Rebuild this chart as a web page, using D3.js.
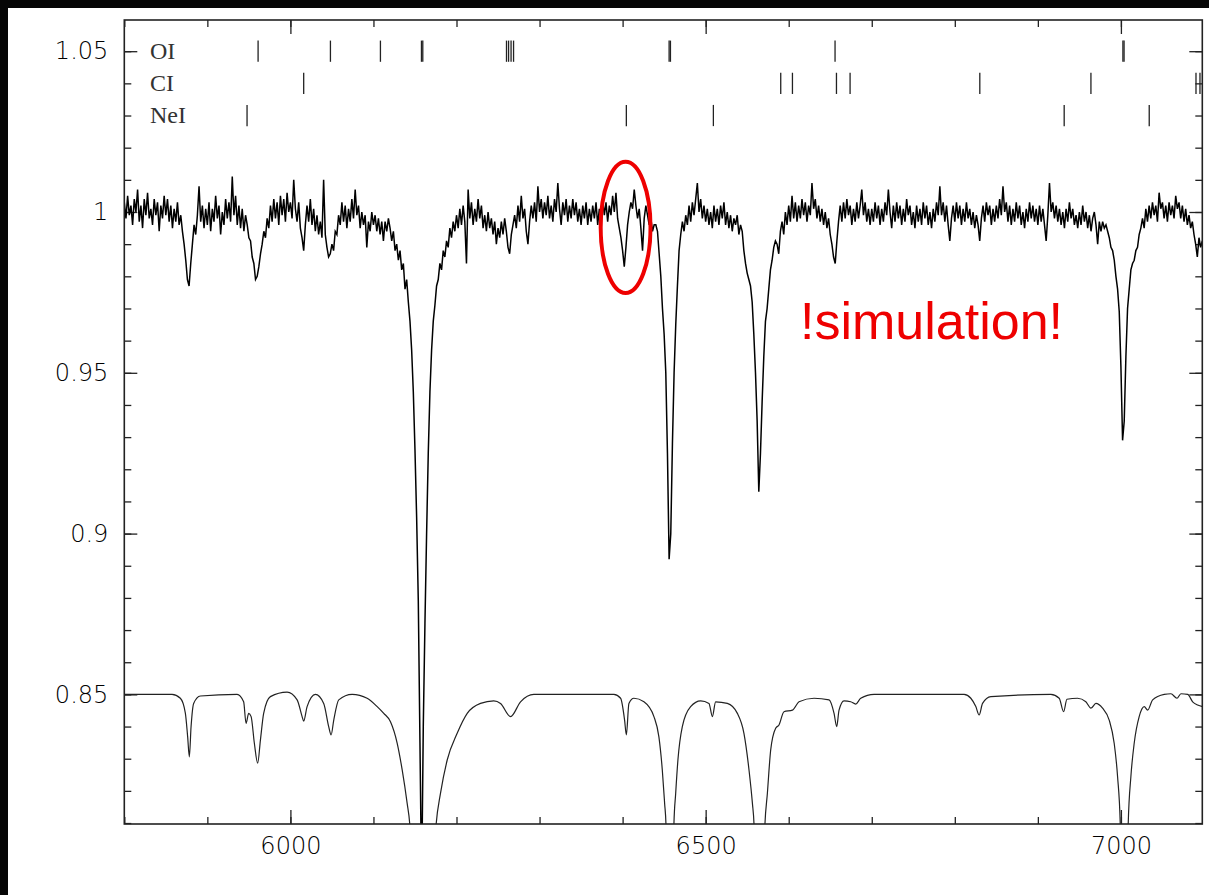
<!DOCTYPE html>
<html>
<head>
<meta charset="utf-8">
<script src="https://cdn.jsdelivr.net/npm/d3@7"></script>
<style>
  html, body { margin: 0; padding: 0; background: #060606; }
  svg { display: block; }
</style>
</head>
<body>
<div id="paper"></div>
<script>
// spectrum.js
// observed spectrum + shifted model, line identifications on top

// observed flux, sampled every 2 A from 5800 A (one row = 50 A)
const obsStart = 5800;
const obsStep = 2;
const obsFlux = [
  1.003,0.998,1.005,0.999,1.002,0.996,1.004,1.000,1.007,0.997,1.002,0.995,1.004,0.999,1.006,0.998,1.001,0.996,1.004,0.999,1.003,0.994,1.002,0.998,1.005,
  0.999,1.004,0.997,1.002,0.995,1.001,0.997,1.003,0.996,0.999,0.994,0.990,0.985,0.979,0.977,0.984,0.990,0.996,0.993,0.999,1.008,0.997,1.002,0.995,1.001,
  0.996,1.003,0.994,1.001,0.997,1.005,0.998,1.002,0.993,1.000,0.996,1.004,0.998,1.003,0.997,1.011,0.999,1.005,0.996,1.002,0.995,1.001,0.994,0.999,0.996,
  0.992,0.991,0.986,0.984,0.979,0.980,0.983,0.987,0.990,0.994,0.992,0.998,0.995,1.002,0.997,1.004,0.998,1.003,0.996,1.005,0.999,1.004,0.997,1.006,1.000,
  1.003,0.998,1.010,1.001,0.997,1.003,0.995,0.992,0.988,0.996,1.002,0.997,1.004,0.996,1.001,0.994,0.999,0.993,0.997,0.992,1.010,0.993,0.989,0.986,0.987,
  0.990,0.988,0.994,0.993,0.999,0.996,1.003,0.997,1.002,0.995,1.001,0.997,1.004,0.998,1.007,0.999,1.002,0.995,1.000,0.996,0.999,0.989,0.997,0.994,1.000,
  0.996,0.999,0.994,0.998,0.993,0.997,0.991,0.997,0.994,0.998,0.995,0.991,0.994,0.988,0.990,0.985,0.988,0.982,0.984,0.976,0.979,0.972,0.966,0.957,0.944,
  0.926,0.905,0.879,0.835,0.790,0.840,0.872,0.900,0.925,0.944,0.957,0.966,0.971,0.977,0.979,0.984,0.982,0.988,0.986,0.991,0.989,0.995,0.992,0.997,0.994,
  0.999,0.995,1.001,0.996,1.002,0.997,0.984,1.007,0.998,1.003,0.996,1.001,0.997,1.004,0.998,1.002,0.995,0.999,0.994,1.000,0.995,0.998,0.993,0.997,0.990,
  0.995,0.992,0.997,0.993,0.998,0.994,0.989,0.987,0.993,0.996,0.999,0.995,1.002,0.997,1.005,0.998,1.001,0.994,0.990,0.997,1.002,0.998,1.003,0.997,1.008,
  1.000,1.004,0.998,1.003,0.999,1.005,0.998,1.002,0.997,1.004,1.000,1.009,1.001,0.996,1.003,0.999,1.004,0.997,1.002,0.998,1.004,0.999,1.003,0.997,1.001,
  0.996,1.002,0.998,1.003,0.996,1.001,0.997,1.002,0.998,1.003,0.996,1.001,0.998,1.004,0.999,1.003,0.997,1.002,0.999,1.005,1.000,1.006,0.998,0.995,0.992,
  0.988,0.983,0.989,0.996,1.000,1.003,1.001,1.007,1.002,0.998,1.001,0.995,0.988,0.998,1.002,0.999,0.996,0.998,0.994,0.996,0.996,0.994,0.987,0.980,0.970,
  0.962,0.950,0.925,0.892,0.900,0.928,0.950,0.965,0.977,0.988,0.993,0.997,0.994,0.999,0.996,1.002,0.997,1.003,0.999,1.004,1.009,1.000,1.004,0.998,1.002,
  0.997,1.001,0.996,1.000,0.995,1.002,0.997,1.001,0.996,1.002,0.998,1.003,0.996,1.000,0.995,0.999,0.994,0.998,0.996,0.999,0.993,0.996,0.994,0.988,0.984,
  0.981,0.979,0.977,0.972,0.962,0.950,0.935,0.913,0.925,0.941,0.955,0.966,0.970,0.976,0.982,0.985,0.989,0.991,0.990,0.987,0.994,0.997,0.993,1.000,0.996,
  1.002,0.997,1.005,0.998,1.003,0.997,1.002,0.998,1.004,0.999,1.003,0.997,1.002,0.999,1.009,1.001,1.004,0.998,1.002,0.997,1.001,0.996,1.000,0.995,0.998,
  0.993,0.990,0.986,0.984,0.991,0.997,1.002,0.997,1.003,0.998,1.004,0.999,1.002,0.996,1.001,0.997,1.003,0.998,1.002,1.007,0.999,1.003,0.997,1.001,0.996,
  1.001,0.997,1.003,0.998,1.002,0.996,1.001,0.997,1.003,0.999,1.007,1.000,0.995,1.002,0.997,1.003,0.998,1.002,0.996,1.001,0.997,1.004,0.999,1.002,0.996,
  1.000,0.995,1.002,0.997,1.001,0.996,1.003,0.998,1.002,0.996,1.000,0.995,1.001,0.997,1.003,0.999,1.008,0.999,1.003,0.997,1.002,0.996,0.991,0.998,1.002,
  0.997,1.003,0.998,1.002,0.996,1.001,0.997,1.003,0.998,1.001,0.996,1.000,0.995,0.999,0.996,0.991,0.998,1.002,0.997,1.003,0.999,1.002,0.996,1.001,0.997,
  1.002,0.998,1.004,0.999,1.008,1.000,1.003,0.997,1.002,0.996,1.001,0.997,1.003,0.998,1.002,0.996,1.000,0.995,1.001,0.997,1.003,0.998,1.002,0.997,1.001,
  0.996,1.002,0.997,1.001,0.996,0.991,0.999,1.009,1.000,1.003,0.998,1.002,0.997,1.001,0.996,1.000,0.995,1.001,0.997,1.003,0.998,1.001,0.996,0.999,0.995,
  1.000,0.996,1.002,0.997,1.000,0.995,0.999,0.994,0.998,1.000,0.996,0.990,0.997,0.994,0.997,0.995,0.996,0.994,0.992,0.989,0.988,0.985,0.980,0.976,0.969,
  0.952,0.929,0.935,0.955,0.970,0.976,0.982,0.984,0.985,0.988,0.989,0.993,0.995,0.998,0.995,1.001,0.997,1.002,0.998,1.003,0.999,1.002,0.997,1.006,1.001,
  1.003,0.998,1.002,0.997,1.003,0.999,1.002,0.998,1.005,1.001,1.003,0.998,1.002,0.997,1.001,0.996,0.999,0.995,0.997,0.993,0.990,0.986,0.992,0.989,0.991
];

// model spectrum shifted to 0.85, [wavelength, flux]
const modelPoints = [
  [5800,0.850],[5857.5,0.850],[5867.5,0.8488],[5873.5,0.8442],[5876.3,0.8368],[5878.3,0.8306],[5880.4,0.8400],[5883.5,0.8472],[5891.6,0.8495],
  [5935.8,0.850],[5943.7,0.8477],[5946.6,0.8410],[5949.8,0.8441],[5952.7,0.8431],[5956.6,0.8348],[5960.6,0.8286],[5963.9,0.8358],[5967.8,0.8441],[5975.9,0.8493],
  [5996.0,0.8507],[6008.1,0.8483],[6014.1,0.8431],[6016.0,0.8417],[6020.1,0.8462],[6030.1,0.8500],[6040.1,0.8472],[6046.1,0.8400],[6049.0,0.8374],[6052.2,0.8420],[6058.2,0.8483],
  [6074.3,0.8500],[6092.4,0.8488],[6104.5,0.8462],[6112.4,0.8441],[6120.5,0.8415],[6128.6,0.8348],[6134.6,0.8265],[6140.6,0.8161],[6143.7,0.8097],
  [6150,0.770],[6158,0.700],[6166,0.760],[6175.5,0.8097],[6180.7,0.8192],[6188.8,0.8296],[6200.8,0.8379],[6212.9,0.8441],[6228.9,0.8472],[6244.9,0.8480],
  [6253.0,0.8472],[6265.1,0.8431],[6277.1,0.8477],[6293.1,0.8500],[6389.5,0.8500],[6397.6,0.8488],[6402.4,0.8420],[6404.5,0.8374],[6407.6,0.8472],[6413.6,0.8488],
  [6425.7,0.8477],[6437.7,0.8431],[6443.7,0.8368],[6447.8,0.8265],[6450.6,0.8161],[6452.2,0.8097],[6457,0.720],[6461.8,0.8097],[6463.9,0.8192],[6466.6,0.8296],
  [6471.9,0.8400],[6481.9,0.8462],[6494.0,0.8480],[6504.0,0.8472],[6508.1,0.8431],[6512.0,0.8477],[6526.1,0.8472],[6538.2,0.8441],[6546.1,0.8379],[6552.2,0.8265],
  [6556.3,0.8161],[6558.2,0.8097],[6564,0.720],[6571.4,0.8097],[6574.3,0.8192],[6578.3,0.8327],[6584.3,0.8395],[6588.3,0.8405],[6594.3,0.8446],[6604.5,0.8451],
  [6612.4,0.8477],[6630.5,0.8488],[6648.6,0.8483],[6654.6,0.8441],[6657.8,0.8400],[6660.6,0.8451],[6666.6,0.8480],[6674.7,0.8477],[6680.7,0.8470],[6686.7,0.8488],
  [6702.8,0.850],[6811.2,0.850],[6819.3,0.8488],[6825.3,0.8462],[6829.3,0.8436],[6833.4,0.8472],[6843.4,0.8493],[6915.7,0.850],[6925.7,0.8488],[6931.0,0.8446],
  [6935.0,0.8485],[6947.8,0.8488],[6957.8,0.8477],[6963.9,0.8457],[6969.9,0.8472],[6977.9,0.8457],[6985.9,0.8420],[6991.9,0.8348],[6996.0,0.8244],[6999.2,0.8097],
  [7004,0.720],[7008.8,0.8097],[7012.0,0.8244],[7016.0,0.8348],[7022.0,0.8431],[7028.1,0.8462],[7032.2,0.8451],[7038.2,0.8483],[7052.2,0.850],[7060.2,0.8502],
  [7067.5,0.8488],[7072.3,0.8502],[7080.4,0.850],[7086.4,0.8477],[7092.4,0.8467],[7098.4,0.8462]
];

// line identifications (A)
const oiLines = [5961.1, 6048.2, 6108.4, 6157.8, 6159.4, 6260.2, 6262.7, 6265.7, 6268.7, 6456.0, 6457.6, 6655.8, 7002.4, 7003.8];
const ciLines = [6016.0, 6590.4, 6604.5, 6657.5, 6673.9, 6830.1, 6963.9, 7090.4, 7095.2];
const neiLines = [5947.8, 6404.5, 6509.3, 6931.7, 7034.1];
const ionNames = ["OI", "CI", "NeI"];
const ionLevels = [1.05, 1.04, 1.03];

// ticks
const xMajor = [6000, 6500, 7000];
const xTickLabels = ["6000", "6500", "7000"];
const yMajor = [0.85, 0.9, 0.95, 1, 1.05];
const yTickLabels = ["0.85", "0.9", "0.95", "1", "1.05"];

// the red mark around the small feature
const markWave = 6403.6, markFlux = 0.9952;

let ink = "#222";
let red = "#ee0000";

const W = 1209, H = 895;
const pLeft = 124.3, pRight = 1202.3, pTop = 20, pBottom = 824;

const svg = d3.select("#paper").append("svg")
  .attr("width", W).attr("height", H);

svg.append("rect").attr("width", W).attr("height", H).attr("fill", "#060606");
svg.append("rect").attr("x", 8).attr("y", 8)
  .attr("width", W - 8).attr("height", H - 8).attr("fill", "#fff");

const x = d3.scaleLinear().domain([5800, 7098]).range([pLeft, pRight]);
const y = d3.scaleLinear().domain([0.8097, 1.0597]).range([pBottom, pTop]);

svg.append("clipPath").attr("id", "plotclip")
  .append("rect")
  .attr("x", pLeft).attr("y", pTop)
  .attr("width", pRight - pLeft).attr("height", pBottom - pTop);

// axes, ticks inward on all four sides
function tidy(g) {
  g.select(".domain").remove();
  g.selectAll("line").attr("stroke", ink).attr("stroke-width", 1.3);
  g.selectAll("text")
    .attr("font-family", "DejaVu Sans")
    .attr("font-size", 24)
    .attr("font-weight", 200)
    .attr("fill", "#000");
}

const xMinor = d3.range(5800, 7100, 100);
const yMinor = d3.range(81, 106).map((d) => d / 100);

svg.append("g").attr("transform", `translate(0,${pBottom})`)
  .call(d3.axisBottom(x).tickValues(xMinor).tickSize(-7).tickFormat(""))
  .call(tidy);
svg.append("g").attr("transform", `translate(0,${pBottom})`)
  .call(d3.axisBottom(x).tickValues(xMajor).tickSize(-14).tickPadding(13)
    .tickFormat((d, i) => xTickLabels[i]))
  .call(tidy);
svg.append("g").attr("transform", `translate(0,${pTop})`)
  .call(d3.axisTop(x).tickValues(xMinor).tickSize(-7).tickFormat(""))
  .call(tidy);
svg.append("g").attr("transform", `translate(0,${pTop})`)
  .call(d3.axisTop(x).tickValues(xMajor).tickSize(-14).tickFormat(""))
  .call(tidy);

svg.append("g").attr("transform", `translate(${pLeft},0)`)
  .call(d3.axisLeft(y).tickValues(yMinor).tickSize(-7).tickFormat(""))
  .call(tidy);
svg.append("g").attr("transform", `translate(${pLeft},0)`)
  .call(d3.axisLeft(y).tickValues(yMajor).tickSize(-13).tickPadding(16)
    .tickFormat((d, i) => yTickLabels[i]))
  .call(tidy);
svg.append("g").attr("transform", `translate(${pRight},0)`)
  .call(d3.axisRight(y).tickValues(yMinor).tickSize(-7).tickFormat(""))
  .call(tidy);
svg.append("g").attr("transform", `translate(${pRight},0)`)
  .call(d3.axisRight(y).tickValues(yMajor).tickSize(-13).tickFormat(""))
  .call(tidy);

// spectra
const plot = svg.append("g").attr("clip-path", "url(#plotclip)");

const obsLine = d3.line()
  .x((d, i) => x(obsStart + i * obsStep))
  .y((d) => y(d));

plot.append("path")
  .datum(obsFlux)
  .attr("d", obsLine)
  .attr("fill", "none")
  .attr("stroke", "#000")
  .attr("stroke-width", 1.5);

const modelLine = d3.line()
  .x((d) => x(d[0]))
  .y((d) => y(d[1]))
  .curve(d3.curveMonotoneX);

plot.append("path")
  .datum(modelPoints)
  .attr("d", modelLine)
  .attr("fill", "none")
  .attr("stroke", ink)
  .attr("stroke-width", 1.2);

// line id rows
const ionRows = ionNames.map((name, i) => {
  return { name: name, level: ionLevels[i], waves: [oiLines, ciLines, neiLines][i] };
});

const rows = svg.append("g");
ionRows.forEach((row) => {
  rows.append("text")
    .attr("x", 150)
    .attr("y", y(row.level) + 7.5)
    .attr("font-family", "Liberation Serif")
    .attr("font-size", 24)
    .attr("fill", "#333")
    .text(row.name);

  rows.selectAll(null)
    .data(row.waves)
    .join("line")
    .attr("x1", (d) => x(d)).attr("x2", (d) => x(d))
    .attr("y1", y(row.level + 0.0033))
    .attr("y2", y(row.level - 0.0033))
    .attr("stroke", ink)
    .attr("stroke-width", 1.3);
});

// frame
svg.append("rect")
  .attr("x", pLeft).attr("y", pTop)
  .attr("width", pRight - pLeft).attr("height", pBottom - pTop)
  .attr("fill", "none")
  .attr("stroke", ink)
  .attr("stroke-width", 1.6);

// annotation
svg.append("ellipse")
  .attr("cx", x(markWave))
  .attr("cy", y(markFlux))
  .attr("rx", x(markWave + 30) - x(markWave))
  .attr("ry", y(markFlux - 0.0204) - y(markFlux))
  .attr("fill", "none")
  .attr("stroke", red)
  .attr("stroke-width", 4);

svg.append("text")
  .attr("x", 800)
  .attr("y", 339)
  .attr("font-family", "Liberation Sans")
  .attr("font-size", 52)
  .attr("fill", red)
  .text("!simulation!");
</script>
</body>
</html>
